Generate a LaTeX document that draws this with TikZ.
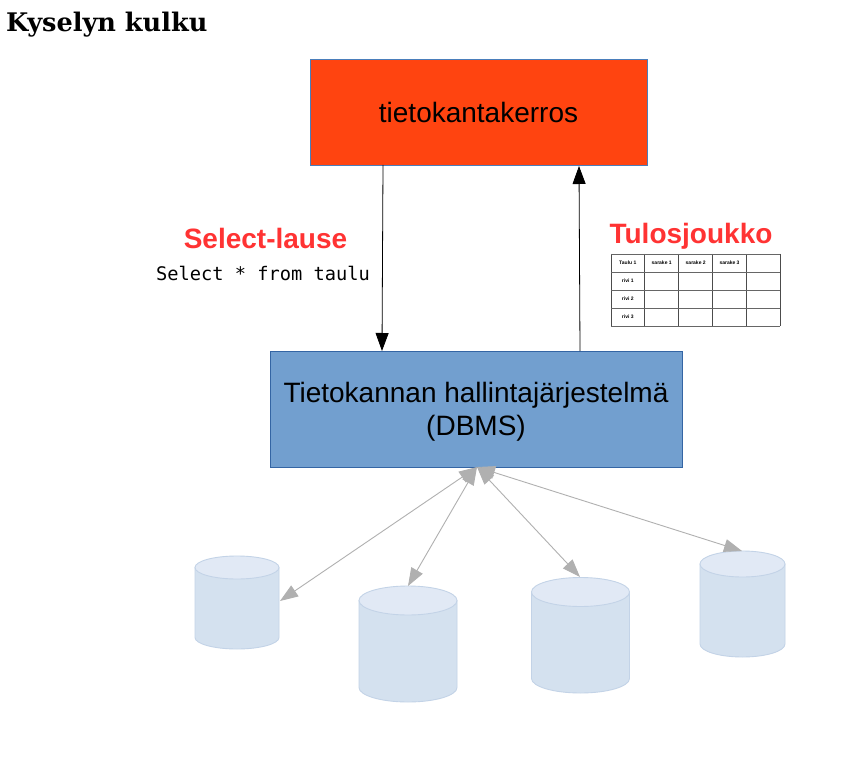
\documentclass[tikz,border=0pt]{standalone}
\usepackage{fontspec}
\setmainfont{Liberation Sans}
\newfontfamily\titlefont{DejaVu Serif}
\newfontfamily\codefont{DejaVu Sans Mono}
\usetikzlibrary{arrows.meta}
\definecolor{layerred}{HTML}{FF4410}
\definecolor{dbmsblue}{HTML}{729FCF}
\definecolor{edgeblue}{HTML}{3465A4}
\definecolor{layeredge}{HTML}{4A7EBB}
\definecolor{labelred}{HTML}{FF3333}
\definecolor{diskbody}{HTML}{D4E1EF}
\definecolor{disktop}{HTML}{E1E9F5}
\definecolor{diskedge}{HTML}{C3D3E7}
\definecolor{linkgray}{HTML}{B0B0B0}
\tikzset{
layerbox/.style={line width=0.8pt, inner sep=0pt, align=center,
    font=\fontsize{28}{33}\selectfont},
redlabel/.style={text=labelred, inner sep=0pt, font=\fontsize{28}{33}\selectfont\bfseries},
query/.style={-{Triangle[length=18pt,width=13pt]}, black, line width=0.8pt},
link/.style={{Triangle[length=18pt,width=13pt]}-{Triangle[length=18pt,width=13pt]}, linkgray, line width=0.9pt},
cell/.style={inner sep=0pt, font=\fontsize{5}{6}\selectfont},
}

\begin{document}
\begin{tikzpicture}[x=1pt,y=-1pt]
    \useasboundingbox (0,0) rectangle (853,775);
    \fill[white] (0,0) rectangle (853,775);

    \node[anchor=base west, inner sep=0pt, font=\titlefont\fontsize{25.6}{30}\selectfont\bfseries] (title) at (6,31.5) {Kyselyn kulku};

    \node[layerbox, draw=layeredge, fill=layerred, minimum width=337pt, minimum height=106pt] (layer) at (478.5,112) {tietokantakerros};
    \node[layerbox, draw=edgeblue, fill=dbmsblue, minimum width=412pt, minimum height=116pt] (dbms) at (476,409) {\begin{tabular}{@{}c@{}}\rule{0pt}{29pt}Tietokannan hallintajärjestelmä\\(DBMS)\end{tabular}};

    \node[redlabel] (selectlabel) at (265.5,238) {Select-lause};
    \node[inner sep=0pt, font=\codefont\fontsize{18.7}{22}\selectfont] (selectcode) at (263,273.3) {Select * from taulu};
    \node[redlabel] (resultlabel) at (691,236.5) {Tulosjoukko};

    % result table
    \foreach \x in {611,644.7,678.7,712.7,746.3,780}
        \draw[black!70, line width=0.8pt] (\x,254) -- (\x,326);
    \foreach \y in {254,272,290,308,326}
        \draw[black!60, line width=0.8pt] (611,\y) -- (780,\y);
    \node[cell] (corner) at (627.8,263) {\bfseries Taulu 1};
    \foreach \n/\x in {1/661.7,2/695.7,3/729.5}
        \node[cell] (col\n) at (\x,263) {\bfseries sarake \n};
    \foreach \n/\y in {1/281,2/299,3/317}
        \node[cell] (row\n) at (627.8,\y) {\bfseries rivi \n};

    % disks
    \foreach \cx/\rx/\top/\bot/\ry in {237/42/556/649/11.5, 408/49/586/702/14.5, 580.5/49/577.5/693/14.5, 742.5/42.5/551/657/13} {
        \draw[diskedge, line width=0.9pt, fill=diskbody]
            (\cx-\rx,\top+\ry) -- (\cx-\rx,\bot-\ry)
            arc[start angle=180, end angle=0, x radius=\rx, y radius=\ry]
            -- (\cx+\rx,\top+\ry) -- cycle;
        \draw[diskedge, line width=0.9pt, fill=disktop]
            (\cx,\top+\ry) ellipse[x radius=\rx, y radius=\ry];
    }

    % connectors
    \coordinate (layerdown) at (383,165);
    \coordinate (dbmsin) at (382,351);
    \coordinate (dbmsout) at (580,351);
    \coordinate (layerin) at (579,166);
    \draw[query] (layerdown) -- (dbmsin);
    \draw[query] (dbmsout) -- (layerin);

    \coordinate (hub) at (477,467);
    \coordinate (endA) at (280,601);
    \coordinate (endB) at (408,586);
    \coordinate (endC) at (580,577);
    \coordinate (endD) at (742,551);
    \draw[link] (hub) -- (endA);
    \draw[link] (hub) -- (endB);
    \draw[link] (hub) -- (endC);
    \draw[link] (hub) -- (endD);
\end{tikzpicture}
\end{document}
